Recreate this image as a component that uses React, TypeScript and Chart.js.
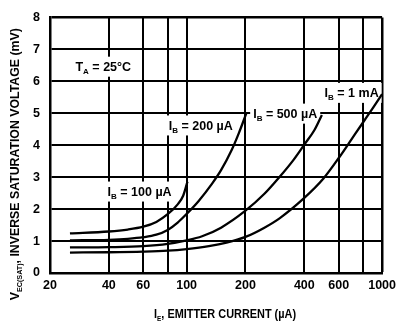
import React, { useEffect, useRef } from "react";
import { Chart, registerables } from "chart.js";

Chart.register(...registerables);

// ---- Axis ticks ----
const xTicks = [20, 40, 60, 80, 100, 200, 400, 600, 800, 1000];
const xTickLabels = ["20", "40", "60", "", "100", "200", "400", "600", "", "1000"];
const yTicks = [0, 1, 2, 3, 4, 5, 6, 7, 8];

// ---- Series: emitter current (uA) vs inverse saturation voltage (mV) ----
const ib100X = [25.3, 40, 50, 60, 70, 80, 90, 96, 101];
const ib100Y = [1.24, 1.3, 1.36, 1.45, 1.6, 1.84, 2.15, 2.42, 2.86];

const ib200X = [25.3, 40, 50, 60, 70, 80, 90, 100, 115, 135, 150, 170, 185, 202];
const ib200Y = [1.02, 1.04, 1.07, 1.12, 1.2, 1.35, 1.58, 1.85, 2.25, 2.8, 3.22, 3.85, 4.38, 5.0];

const ib500X = [25.3, 40, 60, 80, 100, 120, 150, 200, 250, 300, 350, 400, 450, 492];
const ib500Y = [0.8, 0.81, 0.84, 0.91, 1.02, 1.15, 1.42, 1.95, 2.48, 3.02, 3.52, 4.02, 4.47, 4.95];

const ib1mX = [25.3, 40, 60, 80, 100, 130, 160, 200, 250, 300, 400, 500, 600, 700, 800, 900, 1000];
const ib1mY = [0.64, 0.65, 0.67, 0.7, 0.75, 0.84, 0.95, 1.13, 1.42, 1.72, 2.35, 2.95, 3.6, 4.2, 4.72, 5.18, 5.6];

const seriesX = [ib100X, ib200X, ib500X, ib1mX];
const seriesY = [ib100Y, ib200Y, ib500Y, ib1mY];

// ---- Annotations: [main, subscript, rest], anchored at data coords (left edge, vertical centre) ----
const labelParts = [
  ["T", "A", " = 25°C"],
  ["I", "B", " = 100 µA"],
  ["I", "B", " = 200 µA"],
  ["I", "B", " = 500 µA"],
  ["I", "B", " = 1 mA"],
];
const labelX = [27, 39.4, 81, 219, 508];
const labelY = [6.46, 2.55, 4.62, 4.99, 5.64];

const yTitleParts = ["V", "EC(SAT)", ", INVERSE SATURATION VOLTAGE (mV)"];
const xTitleParts = ["I", "E", ", EMITTER CURRENT (µA)"];

const FAMILY = '"Liberation Sans", Arial, Helvetica, sans-serif';

function measureParts(ctx: CanvasRenderingContext2D, parts: string[], size: number, weight: string) {
  const mainFont = `${weight} ${size}px ${FAMILY}`;
  const subFont = `${weight} ${Math.round(size * 0.62)}px ${FAMILY}`;
  const widths = parts.map((p, i) => {
    ctx.font = i === 1 ? subFont : mainFont;
    return ctx.measureText(p).width;
  });
  return { widths, total: widths.reduce((a, b) => a + b, 0), mainFont, subFont };
}

function drawRich(
  ctx: CanvasRenderingContext2D,
  parts: string[],
  x: number,
  y: number,
  size: number,
  weight: string,
  align: "left" | "center",
  rotate = 0,
  fitWidth = 0
) {
  ctx.save();
  const m = measureParts(ctx, parts, size, weight);
  const sx = fitWidth ? fitWidth / m.total : 1;
  ctx.translate(x, y);
  if (rotate) ctx.rotate(rotate);
  ctx.scale(sx, 1);
  let cx = align === "center" ? -m.total / 2 : 0;
  const base = size * 0.36;
  ctx.fillStyle = "#000";
  ctx.textBaseline = "alphabetic";
  ctx.textAlign = "left";
  parts.forEach((p, i) => {
    ctx.font = i === 1 ? m.subFont : m.mainFont;
    ctx.fillText(p, cx, i === 1 ? base + size * 0.22 : base);
    cx += m.widths[i];
  });
  ctx.restore();
}

const labelPlugin = {
  id: "curveLabels",
  beforeDatasetsDraw(chart: any) {
    const ctx: CanvasRenderingContext2D = chart.ctx;
    const xs = chart.scales.x;
    const ys = chart.scales.y;
    labelParts.forEach((parts, i) => {
      const px = xs.getPixelForValue(labelX[i]);
      const py = ys.getPixelForValue(labelY[i]);
      const m = measureParts(ctx, parts, 12.5, "bold");
      ctx.save();
      ctx.fillStyle = "#fff";
      ctx.fillRect(px - 3, py - 10, m.total + 6, 20);
      ctx.restore();
      drawRich(ctx, parts, px, py, 12.5, "bold", "left");
    });
  },
};

const titlePlugin = {
  id: "axisTitles",
  afterDraw(chart: any) {
    const ctx: CanvasRenderingContext2D = chart.ctx;
    const area = chart.chartArea;
    drawRich(ctx, yTitleParts, 15, (area.top + area.bottom) / 2 + 19, 12, "bold", "center", -Math.PI / 2, 272);
    drawRich(ctx, xTitleParts, (area.left + area.right) / 2 + 9, 314, 12, "bold", "center", 0, 142);
  },
};

export default function App() {
  const canvasRef = useRef<HTMLCanvasElement | null>(null);

  useEffect(() => {
    document.body.style.margin = "0";
    const canvas = canvasRef.current;
    if (!canvas) return;
    const lastX = xTicks.length - 1;
    const lastY = yTicks.length - 1;
    const chart = new Chart(canvas, {
      type: "scatter",
      data: {
        datasets: seriesX.map((xs, si) => ({
          data: xs.map((x, i) => ({ x, y: seriesY[si][i] })),
          showLine: true,
          borderColor: "#000",
          backgroundColor: "#000",
          borderWidth: 2.3,
          pointRadius: 0,
          cubicInterpolationMode: "monotone" as const,
          fill: false,
        })),
      },
      options: {
        responsive: false,
        animation: false,
        devicePixelRatio: 1,
        layout: { padding: { left: 0, right: 16, top: 12, bottom: 0 } },
        plugins: {
          legend: { display: false },
          tooltip: { enabled: false },
          title: { display: false },
        },
        scales: {
          x: {
            type: "logarithmic",
            min: 20,
            max: 1000,
            afterBuildTicks: (s: any) => {
              s.ticks = xTicks.map((v) => ({ value: v }));
            },
            afterFit: (s: any) => {
              s.height = 49;
            },
            grid: {
              color: "#000",
              lineWidth: (c: any) => (c.index === lastX ? 2.5 : 2),
              drawTicks: false,
            },
            border: { display: true, color: "#000", width: 2.5 },
            ticks: {
              autoSkip: false,
              maxRotation: 0,
              minRotation: 0,
              padding: 5,
              color: "#000",
              font: { family: FAMILY, size: 12.5, weight: "bold" },
              callback: (v: any) => {
                const i = xTicks.indexOf(Number(v));
                return i >= 0 ? xTickLabels[i] : "";
              },
            },
          },
          y: {
            type: "linear",
            min: 0,
            max: 8,
            afterBuildTicks: (s: any) => {
              s.ticks = yTicks.map((v) => ({ value: v }));
            },
            afterFit: (s: any) => {
              s.width = 50;
            },
            grid: {
              color: "#000",
              lineWidth: (c: any) => (c.index === lastY ? 2.5 : 2),
              drawTicks: false,
            },
            border: { display: true, color: "#000", width: 2.5 },
            ticks: {
              padding: 10,
              color: "#000",
              font: { family: FAMILY, size: 12.5, weight: "bold" },
              callback: (v: any) => String(v),
            },
          },
        },
      },
      plugins: [labelPlugin, titlePlugin],
    } as any);
    return () => chart.destroy();
  }, []);

  return (
    <div style={{ width: 401, height: 322, background: "#fff" }}>
      <canvas ref={canvasRef} width={401} height={322} style={{ display: "block" }} />
    </div>
  );
}
